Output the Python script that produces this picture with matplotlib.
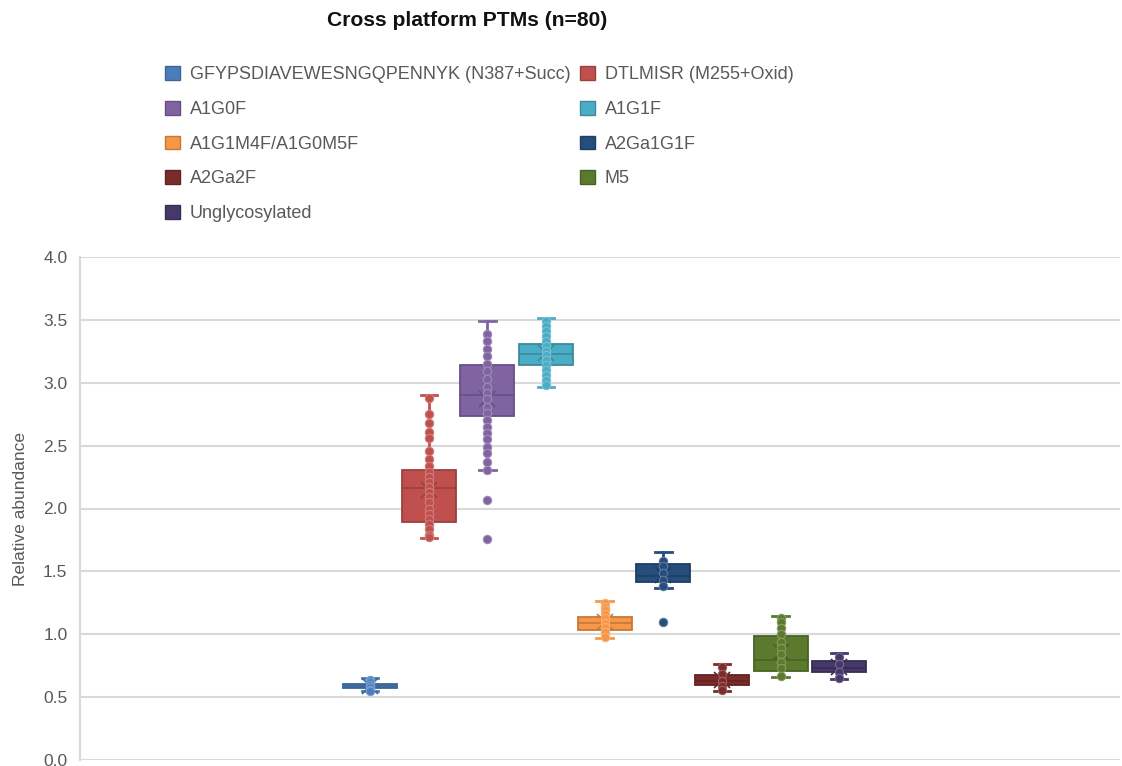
import matplotlib
matplotlib.use("Agg")
import matplotlib.pyplot as plt
from matplotlib.patches import Patch
from matplotlib.colors import to_rgb

plt.rcParams['font.family'] = ['Liberation Sans', 'DejaVu Sans']

names = ["GFYPSDIAVEWESNGQPENNYK (N387+Succ)", "DTLMISR (M255+Oxid)", "A1G0F", "A1G1F",
         "A1G1M4F/A1G0M5F", "A2Ga1G1F", "A2Ga2F", "M5", "Unglycosylated"]
colors = ["#4a7ebb", "#c0504d", "#8064a2", "#4bacc6", "#f79646",
          "#254e7c", "#7b2c2a", "#5c7a2e", "#46386a"]

# box statistics per series
q1 = [0.575, 1.895, 2.735, 3.14, 1.035, 1.418, 0.594, 0.708, 0.697]
med = [0.59, 2.165, 2.90, 3.225, 1.09, 1.463, 0.628, 0.797, 0.73]
q3 = [0.605, 2.31, 3.14, 3.305, 1.14, 1.558, 0.676, 0.988, 0.79]
whislo = [0.545, 1.765, 2.305, 2.97, 0.973, 1.365, 0.545, 0.663, 0.643]
whishi = [0.655, 2.90, 3.49, 3.515, 1.262, 1.656, 0.762, 1.145, 0.848]
means = [0.59, 2.15, 2.87, 3.24, 1.10, 1.47, 0.64, 0.86, 0.74]

# individual points (inner points and outliers)
pts_gfy = [0.64, 0.62, 0.60, 0.58, 0.56, 0.55]
pts_dtl = [2.88, 2.75, 2.68, 2.61, 2.56, 2.46, 2.39, 2.34, 2.29, 2.25, 2.21,
           2.17, 2.13, 2.09, 2.05, 2.00, 1.96, 1.92, 1.88, 1.84, 1.79, 1.77]
pts_a1g0f = [3.39, 3.33, 3.27, 3.21, 3.15, 3.09, 3.03, 2.97, 2.92, 2.87, 2.81,
             2.76, 2.70, 2.65, 2.60, 2.55, 2.49, 2.44, 2.37, 2.31, 2.07, 1.76]
pts_a1g1f = [3.49, 3.45, 3.41, 3.37, 3.33, 3.29, 3.25, 3.22, 3.18, 3.14, 3.10,
             3.06, 3.02, 2.98]
pts_a1g1m4f = [1.25, 1.22, 1.19, 1.16, 1.13, 1.09, 1.06, 1.02, 0.98]
pts_a2ga1g1f = [1.58, 1.54, 1.49, 1.43, 1.38, 1.10]
pts_a2ga2f = [0.74, 0.68, 0.63, 0.59, 0.56]
pts_m5 = [1.13, 1.10, 1.05, 1.00, 0.94, 0.89, 0.84, 0.78, 0.73, 0.67]
pts_unglyc = [0.82, 0.76, 0.70, 0.65]
points = [pts_gfy, pts_dtl, pts_a1g0f, pts_a1g1f, pts_a1g1m4f,
          pts_a2ga1g1f, pts_a2ga2f, pts_m5, pts_unglyc]

yticks = [0.0, 0.5, 1.0, 1.5, 2.0, 2.5, 3.0, 3.5, 4.0]


def shade(c, f):
    r, g, b = to_rgb(c)
    if f < 0:
        return (r * (1 + f), g * (1 + f), b * (1 + f))
    return (r + (1 - r) * f, g + (1 - g) * f, b + (1 - b) * f)


fig = plt.figure(figsize=(11.22, 7.66), dpi=100)
ax = fig.add_axes([80 / 1122, 6 / 766, 1040 / 1122, 503 / 766])

for i, c in enumerate(colors):
    pos = i + 1
    st = dict(q1=q1[i], med=med[i], q3=q3[i], whislo=whislo[i],
              whishi=whishi[i], mean=means[i], fliers=[])
    dark = shade(c, -0.2)
    ax.bxp([st], positions=[pos], widths=0.92, capwidths=0.28,
           patch_artist=True, showmeans=True, showfliers=False,
           boxprops=dict(facecolor=c, edgecolor=dark, linewidth=1.3),
           medianprops=dict(color=dark, linewidth=1.2),
           whiskerprops=dict(color=c, linewidth=2),
           capprops=dict(color=c, linewidth=2),
           meanprops=dict(marker='x', markeredgecolor=dark, markersize=11,
                          markeredgewidth=1.2),
           zorder=3)
    ax.scatter([pos] * len(points[i]), points[i], s=36, color=c,
               edgecolors=shade(c, 0.25), linewidths=0.8, zorder=4)

ax.set_ylim(0, 4)
ax.set_xlim(-3.95, 13.79)
ax.set_yticks(yticks)
ax.set_yticklabels([f"{v:.1f}" for v in yticks])
ax.set_xticks([])
ax.tick_params(axis='y', length=0, pad=9, labelsize=12.5, labelcolor='#595959')
ax.grid(axis='y', color='#d9d9d9', linewidth=1.5, zorder=0)
ax.set_axisbelow(True)
for side in ['top', 'right', 'bottom']:
    ax.spines[side].set_visible(False)
ax.spines['left'].set_color('#d9d9d9')
ax.spines['left'].set_linewidth(1.5)
ax.set_ylabel("Relative abundance", fontsize=12.5, color='#595959')
ax.yaxis.set_label_coords(-0.050, 0.5)

fig.text(467 / 1122, 1 - 21 / 766, "Cross platform PTMs (n=80)", ha='center',
         va='center', fontsize=15.2, fontweight='bold', color='#111111')

# legend is filled row by row: two columns
order = [0, 2, 4, 6, 8, 1, 3, 5, 7]
handles = [Patch(facecolor=colors[k], edgecolor=shade(colors[k], -0.2),
                 label=names[k]) for k in order]
fig.legend(handles=handles, ncol=2, loc='upper left',
           bbox_to_anchor=(158 / 1122, 1 - 59 / 766), frameon=False,
           fontsize=13, labelcolor='#595959', handlelength=0.8,
           handleheight=0.8, handletextpad=0.55, labelspacing=0.97,
           columnspacing=0.55, borderaxespad=0)

fig.savefig("out.png", dpi=100)
